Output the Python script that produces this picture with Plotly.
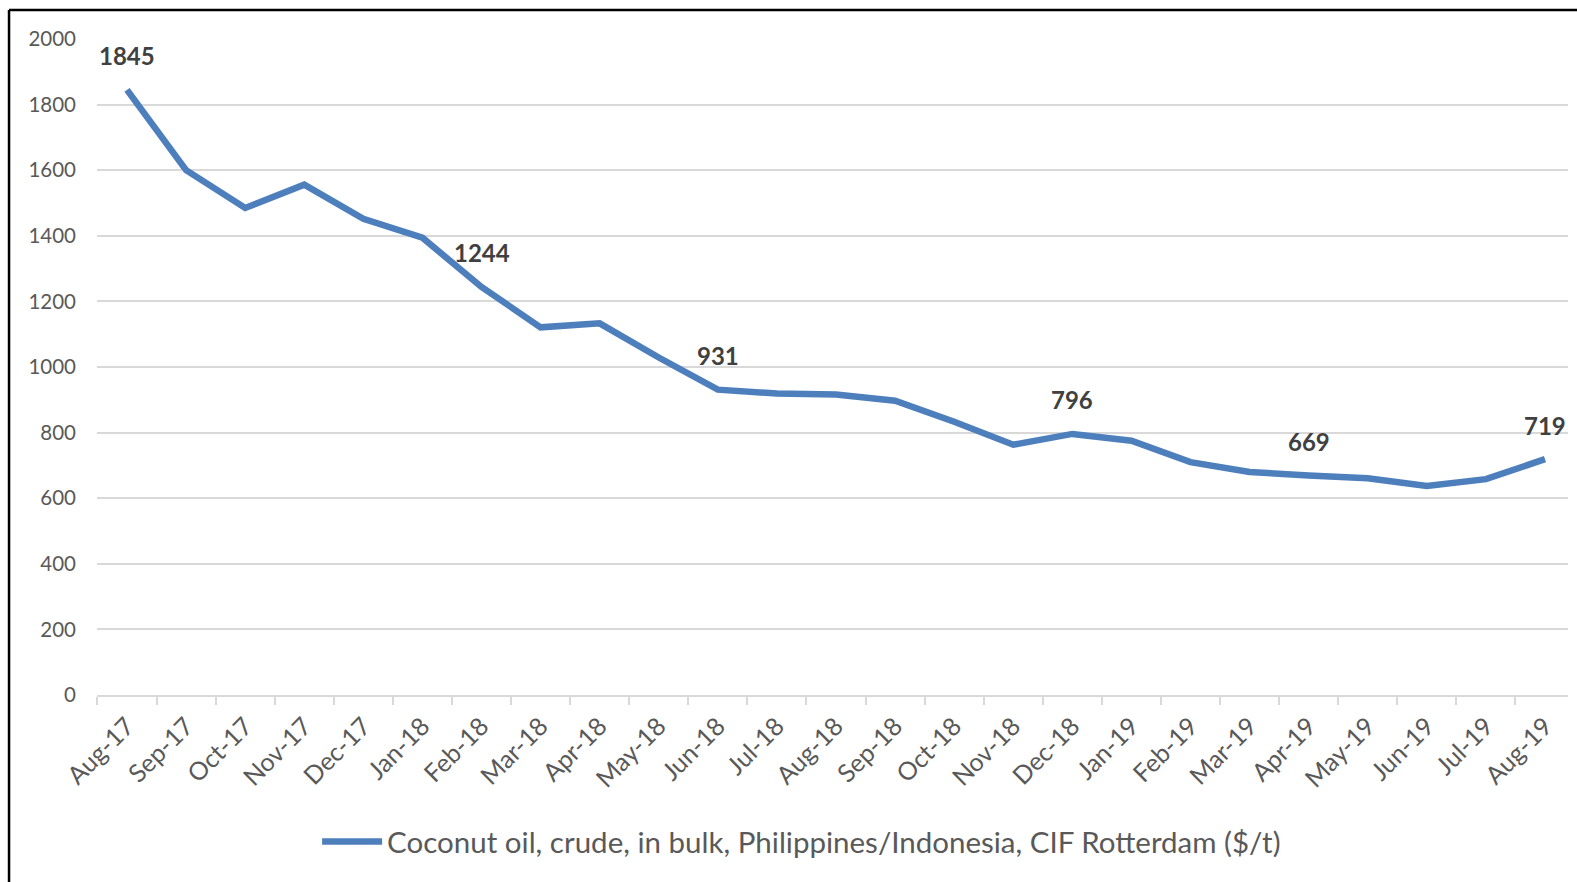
import plotly.graph_objects as go

months = ["Aug-17", "Sep-17", "Oct-17", "Nov-17", "Dec-17", "Jan-18", "Feb-18", "Mar-18",
          "Apr-18", "May-18", "Jun-18", "Jul-18", "Aug-18", "Sep-18", "Oct-18", "Nov-18",
          "Dec-18", "Jan-19", "Feb-19", "Mar-19", "Apr-19", "May-19", "Jun-19", "Jul-19", "Aug-19"]
prices = [1845, 1600, 1485, 1556, 1452, 1394, 1244, 1121, 1133, 1029, 931, 919, 916, 897,
          833, 763, 796, 775, 710, 680, 669, 661, 637, 658, 719]
labeled_months = ["Aug-17", "Feb-18", "Jun-18", "Dec-18", "Apr-19", "Aug-19"]
y_ticks = [0, 200, 400, 600, 800, 1000, 1200, 1400, 1600, 1800, 2000]
series_name = "Coconut oil, crude, in bulk, Philippines/Indonesia, CIF Rotterdam ($/t)"

FONT = "Lato"
fig = go.Figure()
fig.add_trace(go.Scatter(
    x=months, y=prices, mode="lines", name=series_name,
    line=dict(color="#4E7FBD", width=6.5),
))

annotations = []
for m, v in zip(months, prices):
    if m in labeled_months:
        annotations.append(dict(
            x=m, y=v, xref="x", yref="y", text=str(v), showarrow=False,
            yshift=34, font=dict(family=FONT, size=24, color="#404040", weight="bold"),
        ))

fig.update_layout(
    width=1577, height=882,
    margin=dict(l=97, r=9, t=39, b=186.5),
    paper_bgcolor="white", plot_bgcolor="white",
    font=dict(family=FONT, color="#595959"),
    showlegend=True,
    legend=dict(orientation="h", x=0.479, xanchor="center", y=-0.224, yanchor="middle",
                itemwidth=60,
                font=dict(family=FONT, size=29.5, color="#595959")),
    annotations=annotations,
    xaxis=dict(
        type="category", tickangle=-45, tickfont=dict(size=25, color="#595959"),
        showgrid=False, showline=True, linecolor="#D9D9D9", linewidth=1.5,
        ticks="outside", tickson="boundaries", ticklen=8, tickcolor="#D9D9D9", tickwidth=1.5,
        ticklabelstandoff=5, automargin=False,
    ),
    yaxis=dict(
        range=[0, 2000], tickvals=y_ticks, tickfont=dict(size=20.5, color="#595959"),
        showgrid=True, gridcolor="#D9D9D9", gridwidth=1.5, zeroline=False, showline=False,
        ticks="", ticklabelstandoff=20, automargin=False,
    ),
    shapes=[
        dict(type="line", xref="paper", yref="paper", x0=-0.0598, x1=-0.0598, y0=-0.3, y1=1.0442,
             line=dict(color="black", width=2.5)),
        dict(type="line", xref="paper", yref="paper", x0=-0.0598, x1=1.01, y0=1.0442, y1=1.0442,
             line=dict(color="black", width=2.5)),
    ],
)

fig.write_html("out.html")
